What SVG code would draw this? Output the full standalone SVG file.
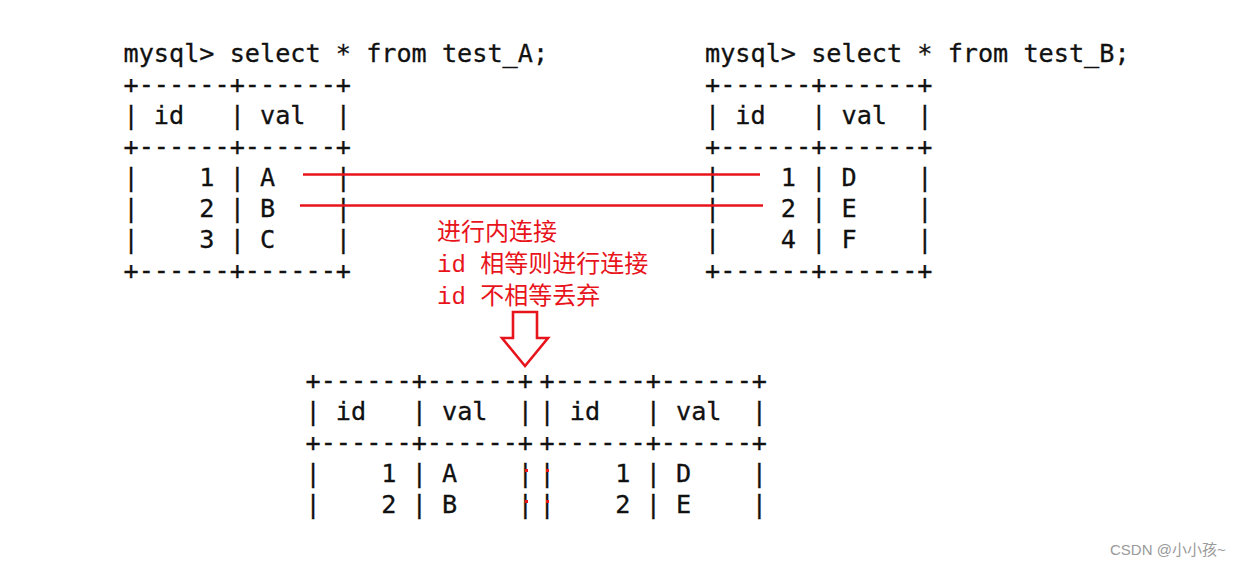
<svg xmlns="http://www.w3.org/2000/svg" width="1242" height="568" viewBox="0 0 1242 568">
<style>
.m{font-family:"DejaVu Sans Mono","Liberation Mono",monospace;font-size:25.2px;fill:#111;stroke:#111;stroke-width:0.3;white-space:pre}
.r{font-family:"Liberation Mono","Noto Sans CJK SC",monospace;font-size:24px;fill:#e8141c;white-space:pre}
.rl{stroke:#e8141c;stroke-width:2.6;fill:none}
.w{font-family:"Liberation Sans","Noto Sans CJK SC",sans-serif;font-size:15px;fill:#9a9a9a}
</style>
<rect width="1242" height="568" fill="#fff"/>
<g id="tableA">
<text class="m" x="123.5" y="62">mysql&gt; select * from test_A;</text>
<text class="m" x="123.5" y="93">+------+------+</text>
<text class="m" x="123.5" y="124">| id   | val  |</text>
<text class="m" x="123.5" y="155">+------+------+</text>
<text class="m" x="123.5" y="186">|    1 | A    |</text>
<text class="m" x="123.5" y="217">|    2 | B    |</text>
<text class="m" x="123.5" y="248">|    3 | C    |</text>
<text class="m" x="123.5" y="279">+------+------+</text>
</g>
<g id="tableB">
<text class="m" x="705" y="62">mysql&gt; select * from test_B;</text>
<text class="m" x="705" y="93">+------+------+</text>
<text class="m" x="705" y="124">| id   | val  |</text>
<text class="m" x="705" y="155">+------+------+</text>
<text class="m" x="705" y="186">|    1 | D    |</text>
<text class="m" x="705" y="217">|    2 | E    |</text>
<text class="m" x="705" y="248">|    4 | F    |</text>
<text class="m" x="705" y="279">+------+------+</text>
</g>
<g id="connectors">
<line class="rl" x1="303" y1="174.5" x2="760" y2="174.5"/>
<line class="rl" x1="300" y1="205.5" x2="763" y2="205.5"/>
</g>
<g id="note">
<text class="r" x="437" y="240">进行内连接</text>
<text class="r" x="437" y="272">id 相等则进行连接</text>
<text class="r" x="437" y="304">id 不相等丢弃</text>
</g>
<g id="arrow">
<polygon class="rl" points="513,312 537,312 537,338 548,338 525,366 502,338 513,338"/>
</g>
<g id="result">
<text class="m" x="305.5" y="389">+------+------+</text>
<text class="m" x="305.5" y="420">| id   | val  |</text>
<text class="m" x="305.5" y="451">+------+------+</text>
<text class="m" x="305.5" y="482">|    1 | A    |</text>
<text class="m" x="305.5" y="513">|    2 | B    |</text>
<text class="m" x="539.5" y="389">+------+------+</text>
<text class="m" x="539.5" y="420">| id   | val  |</text>
<text class="m" x="539.5" y="451">+------+------+</text>
<text class="m" x="539.5" y="482">|    1 | D    |</text>
<text class="m" x="539.5" y="513">|    2 | E    |</text>
<rect x="525" y="469" width="3" height="3" fill="#e8141c"/>
<rect x="546" y="469" width="3" height="3" fill="#e8141c"/>
<rect x="525" y="500" width="3" height="3" fill="#e8141c"/>
<rect x="546" y="500" width="3" height="3" fill="#e8141c"/>
</g>
<g id="watermark">
<text class="w" x="1110" y="555">CSDN @小小孩~</text>
</g>
</svg>
